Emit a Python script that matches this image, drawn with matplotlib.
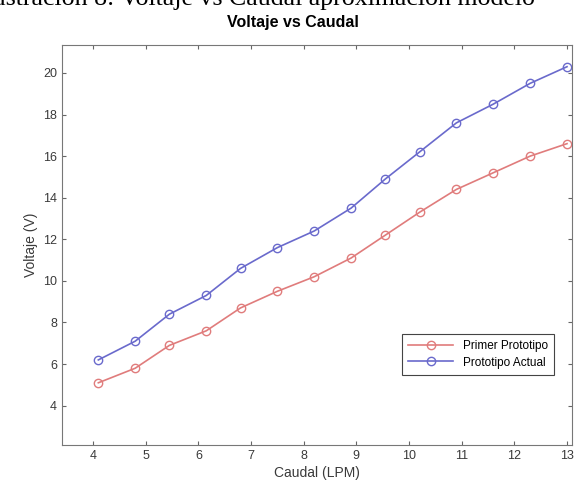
import numpy as np
import matplotlib
matplotlib.use("Agg")
import matplotlib.pyplot as plt

# Caudal (LPM) y voltaje (V)
caudal = [4.1, 4.8, 5.45, 6.15, 6.8, 7.5, 8.2, 8.9, 9.55, 10.2, 10.9, 11.6, 12.3, 13.0]
v_primer = [5.1, 5.8, 6.9, 7.6, 8.7, 9.5, 10.2, 11.1, 12.2, 13.3, 14.4, 15.2, 16.0, 16.6]
v_actual = [6.2, 7.1, 8.4, 9.3, 10.6, 11.6, 12.4, 13.5, 14.9, 16.2, 17.6, 18.5, 19.5, 20.3]
xticks = [4, 5, 6, 7, 8, 9, 10, 11, 12, 13]
yticks = [4, 6, 8, 10, 12, 14, 16, 18, 20]

plt.rcParams['font.family'] = ['Liberation Sans', 'DejaVu Sans']

fig = plt.figure(figsize=(5.74, 4.93), dpi=100)
ax = fig.add_axes([0.108, 0.097, 0.889, 0.812])

# Pie de figura recortado arriba (como en la imagen original)
fig.text(0.446, 0.989, "Ilustración 8: Voltaje vs Caudal aproximación modelo",
         ha='center', va='baseline', fontsize=18.6, family='Liberation Serif')

rojo = '#e07c7c'
azul = '#6a6acc'
ax.plot(caudal, v_primer, '-o', color=rojo, mfc='none', ms=6, lw=1.2, label='Primer Prototipo')
ax.plot(caudal, v_actual, '-o', color=azul, mfc='none', ms=6, lw=1.2, label='Prototipo Actual')

ax.set_xlim(3.41, 13.1)
ax.set_ylim(2.1, 21.35)
ax.set_xticks(xticks)
ax.set_yticks(yticks)
ax.tick_params(direction='in', top=True, right=True, length=3, labelsize=9,
               colors='#666666', labelcolor='#3a3a3a')
for s in ax.spines.values():
    s.set_color('#777777')

ax.set_title("Voltaje vs Caudal", fontsize=11.5, fontweight='bold', x=0.452, pad=13)
ax.set_xlabel("Caudal (LPM)", fontsize=10, color='#3a3a3a', labelpad=3)
ax.set_ylabel("Voltaje (V)", fontsize=10, color='#3a3a3a')

leg = ax.legend(loc='lower right', bbox_to_anchor=(0.965, 0.175), fontsize=8.5,
                fancybox=False, edgecolor='#444444', framealpha=1, borderaxespad=0,
                borderpad=0.55, handlelength=3.8, labelspacing=0.35)
leg.get_frame().set_linewidth(0.8)

fig.savefig("out.png", dpi=100)
